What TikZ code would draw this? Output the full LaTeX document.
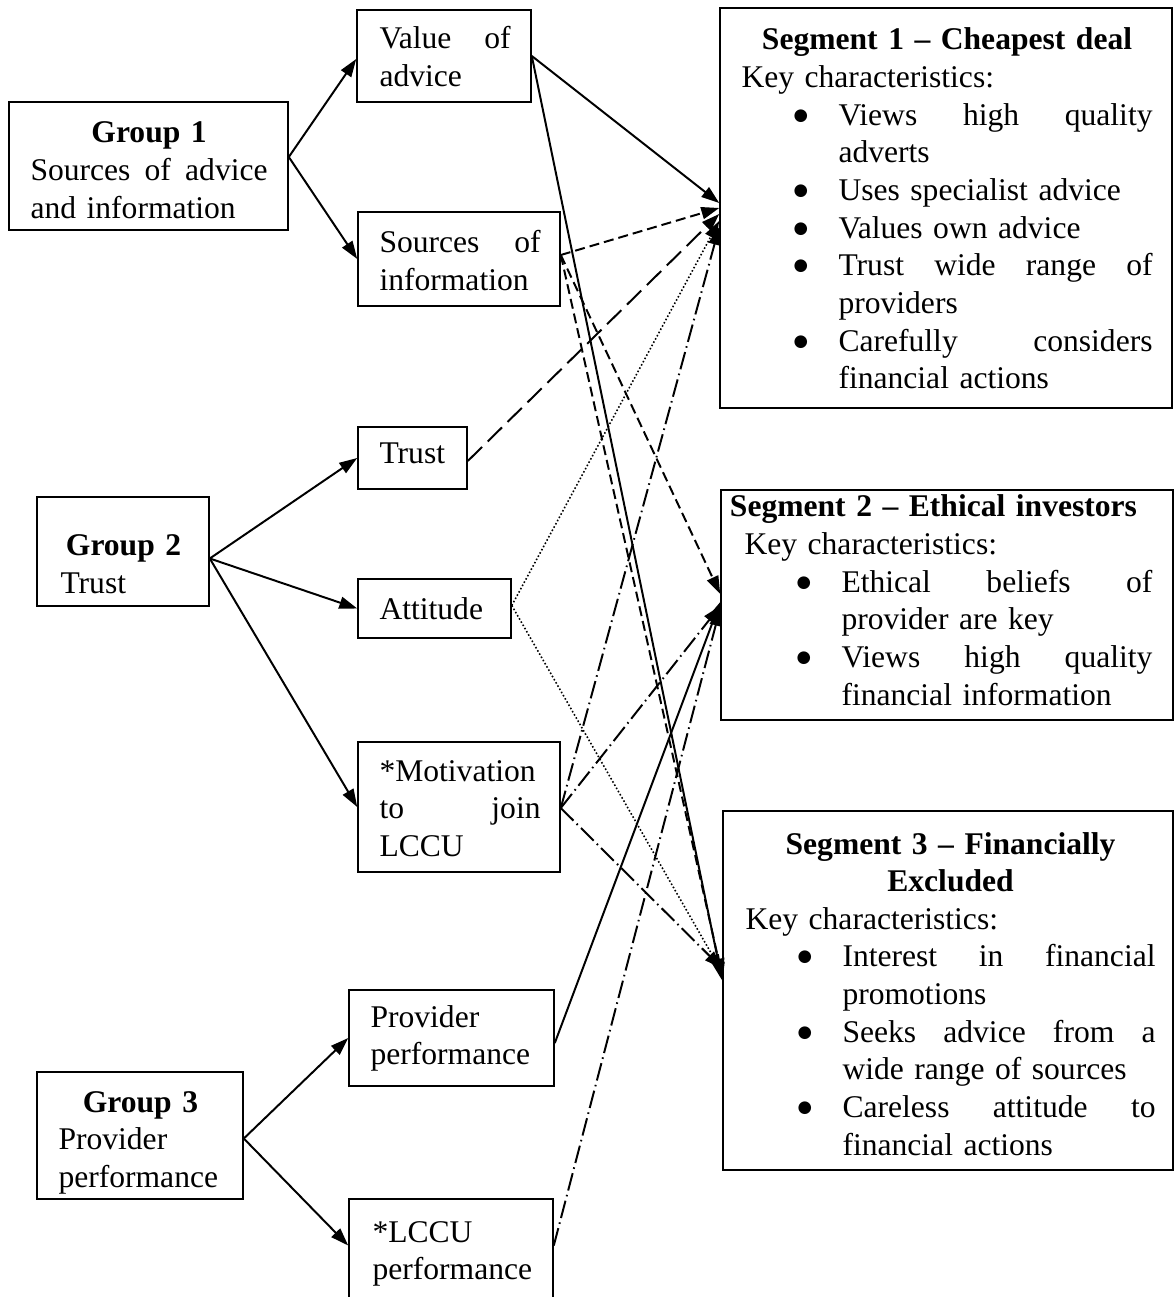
\documentclass[tikz,border=0pt]{standalone}
\usepackage{fontspec}
\setmainfont{Liberation Serif}
\newfontfamily\bulletfont{DejaVu Sans}
\usetikzlibrary{arrows.meta,fit,calc}
\newlength\pxu
\setlength\pxu{0.38pt}
% bullet and continuation indents for the characteristic lists
\newcommand\itemmark{\hspace*{52\pxu}\makebox[45\pxu][l]{\raisebox{1.9pt}{\bulletfont\fontsize{6.3pt}{6.3pt}\selectfont ●}}}
\newcommand\itemcont{\hspace*{97\pxu}}

\tikzset{
  box/.style={draw, line width=0.6pt, inner sep=0pt},
  txt/.style={anchor=base west, inner sep=0pt, align=left,
    font=\fontsize{12pt}{14.3pt}\selectfont},
  link/.style={line width=0.75pt, -{Triangle[length=6.8pt,width=4.6pt]}},
  shortdash/.style={link, dash pattern=on 3.8pt off 1.9pt},
  longdash/.style={link, dash pattern=on 7.6pt off 3pt},
  dotline/.style={link, line width=0.6pt, dash pattern=on 0.6pt off 0.8pt},
  dashdotline/.style={link, dash pattern=on 6.8pt off 1.7pt on 0.6pt off 1.7pt},
}

\begin{document}
\begin{tikzpicture}[x=0.38pt, y=-0.38pt]
\path[use as bounding box] (0,0) rectangle (1175,1297);
\clip (0,0) rectangle (1175,1297);

% ---------- boxes ----------
\node[box, fit={(9,102) (288,230)}] (g1) {};
\node[box, fit={(357,10) (531,102)}] (val) {};
\node[box, fit={(358,212) (560,306)}] (src) {};
\node[box, fit={(37,497) (209,606)}] (g2) {};
\node[box, fit={(358,427) (467,489)}] (tru) {};
\node[box, fit={(358,579) (511,638)}] (att) {};
\node[box, fit={(358,742) (560,872)}] (mot) {};
\node[box, fit={(37,1072) (243,1199)}] (g3) {};
\node[box, fit={(349,990) (554,1086)}] (prov) {};
\node[box, fit={(349,1199) (553,1300)}] (lccu) {};
\node[box, fit={(720,8) (1172,408)}] (s1) {};
\node[box, fit={(721,490) (1173,720)}] (s2) {};
\node[box, fit={(723,811) (1173,1170)}] (s3) {};

% ---------- texts ----------
\node[txt, text width=90.1pt] (g1t) at (30,143)
  {\makebox[\linewidth]{\bfseries Group 1}\\
   Sources\hfill of\hfill advice\\
   and information};
\node[txt, text width=49.8pt] (valt) at (379,49)
  {Value\hfill of\\ advice};
\node[txt, text width=61.2pt] (srct) at (379,253)
  {Sources\hfill of\\ information};
\node[txt, text width=47.9pt] (g2t) at (60,556)
  {\makebox[\linewidth]{\bfseries Group 2}\\ Trust};
\node[txt] (trut) at (379,464) {Trust};
\node[txt] (attt) at (379,619) {Attitude};
\node[txt, text width=61.2pt] (mott) at (379,781)
  {*Motivation\\ to\hfill join\\ LCCU};
\node[txt, text width=62.3pt] (g3t) at (58,1112)
  {\makebox[\linewidth]{\bfseries Group 3}\\ Provider\\ performance};
\node[txt, text width=62pt] (provt) at (370,1027)
  {Provider\\ performance};
\node[txt, text width=62pt] (lccut) at (372,1242)
  {*LCCU\\ performance};

\node[txt, text width=156.2pt] (s1t) at (741,50)
  {\makebox[\linewidth]{\bfseries Segment 1 – Cheapest deal}\\
   Key characteristics:\\
   \itemmark Views\hfill high\hfill quality\\
   \itemcont adverts\\
   \itemmark Uses specialist advice\\
   \itemmark Values own advice\\
   \itemmark Trust\hfill wide\hfill range\hfill of\\
   \itemcont providers\\
   \itemmark Carefully\hfill considers\\
   \itemcont financial actions};
\node[txt, text width=155pt] (s2t) at (744,517)
  {\makebox[\linewidth]{\hspace*{-30\pxu}\bfseries Segment 2 – Ethical investors}\\
   Key characteristics:\\
   \itemmark Ethical\hfill beliefs\hfill of\\
   \itemcont provider are key\\
   \itemmark Views\hfill high\hfill quality\\
   \itemcont financial information};
\node[txt, text width=155.8pt] (s3t) at (745,854)
  {\makebox[\linewidth]{\bfseries Segment 3 – Financially}\\
   \makebox[\linewidth]{\bfseries Excluded}\\
   Key characteristics:\\
   \itemmark Interest\hfill in\hfill financial\\
   \itemcont promotions\\
   \itemmark Seeks\hfill advice\hfill from\hfill a\\
   \itemcont wide range of sources\\
   \itemmark Careless\hfill attitude\hfill to\\
   \itemcont financial actions};

% ---------- group links ----------
\draw[link] ($(g1.east)+(0,-9)$) -- ($(val.west)+(0,3)$);
\draw[link] ($(g1.east)+(0,-9)$) -- (src.west);
\draw[link] ($(g2.east)+(0,7)$) -- (tru.west);
\draw[link] ($(g2.east)+(0,7)$) -- (att.west);
\draw[link] ($(g2.east)+(0,7)$) -- (mot.west);
\draw[link] ($(g3.east)+(0,3)$) -- (prov.west);
\draw[link] ($(g3.east)+(0,3)$) -- ($(lccu.west)+(0,-4)$);

% ---------- links to Segment 1 ----------
\draw[link] (val.east) -- ($(s1.west)+(0,-5)$);
\draw[shortdash] ($(src.east)+(0,-4)$) -- ($(s1.west)+(0,0)$);
\draw[longdash] ($(tru.east)+(0,3)$) -- ($(s1.west)+(0,6)$);
\draw[dotline] ($(att.east)+(0,-3)$) -- ($(s1.west)+(0,13)$);
\draw[dashdotline] ($(mot.east)+(0,1)$) -- ($(s1.west)+(0,19)$);

% ---------- links to Segment 2 ----------
\draw[shortdash] ($(src.east)+(0,-4)$) -- ($(s2.west)+(0,-11)$);
\draw[dashdotline] ($(mot.east)+(0,1)$) -- ($(s2.west)+(0,1)$);
\draw[link] ($(prov.east)+(0,5)$) -- ($(s2.west)+(0,-3)$);
\draw[dashdotline] ($(lccu.east)+(0,-4)$) -- ($(s2.west)+(0,3)$);

% ---------- links to Segment 3 ----------
\draw[link] (val.east) -- ($(s3.west)+(0,-10)$);
\draw[shortdash] ($(src.east)+(0,-4)$) -- ($(s3.west)+(0,-14)$);
\draw[dotline] ($(att.east)+(0,-3)$) -- ($(s3.west)+(0,-18)$);
\draw[dashdotline] ($(mot.east)+(0,1)$) -- ($(s3.west)+(0,-22)$);
\end{tikzpicture}
\end{document}
